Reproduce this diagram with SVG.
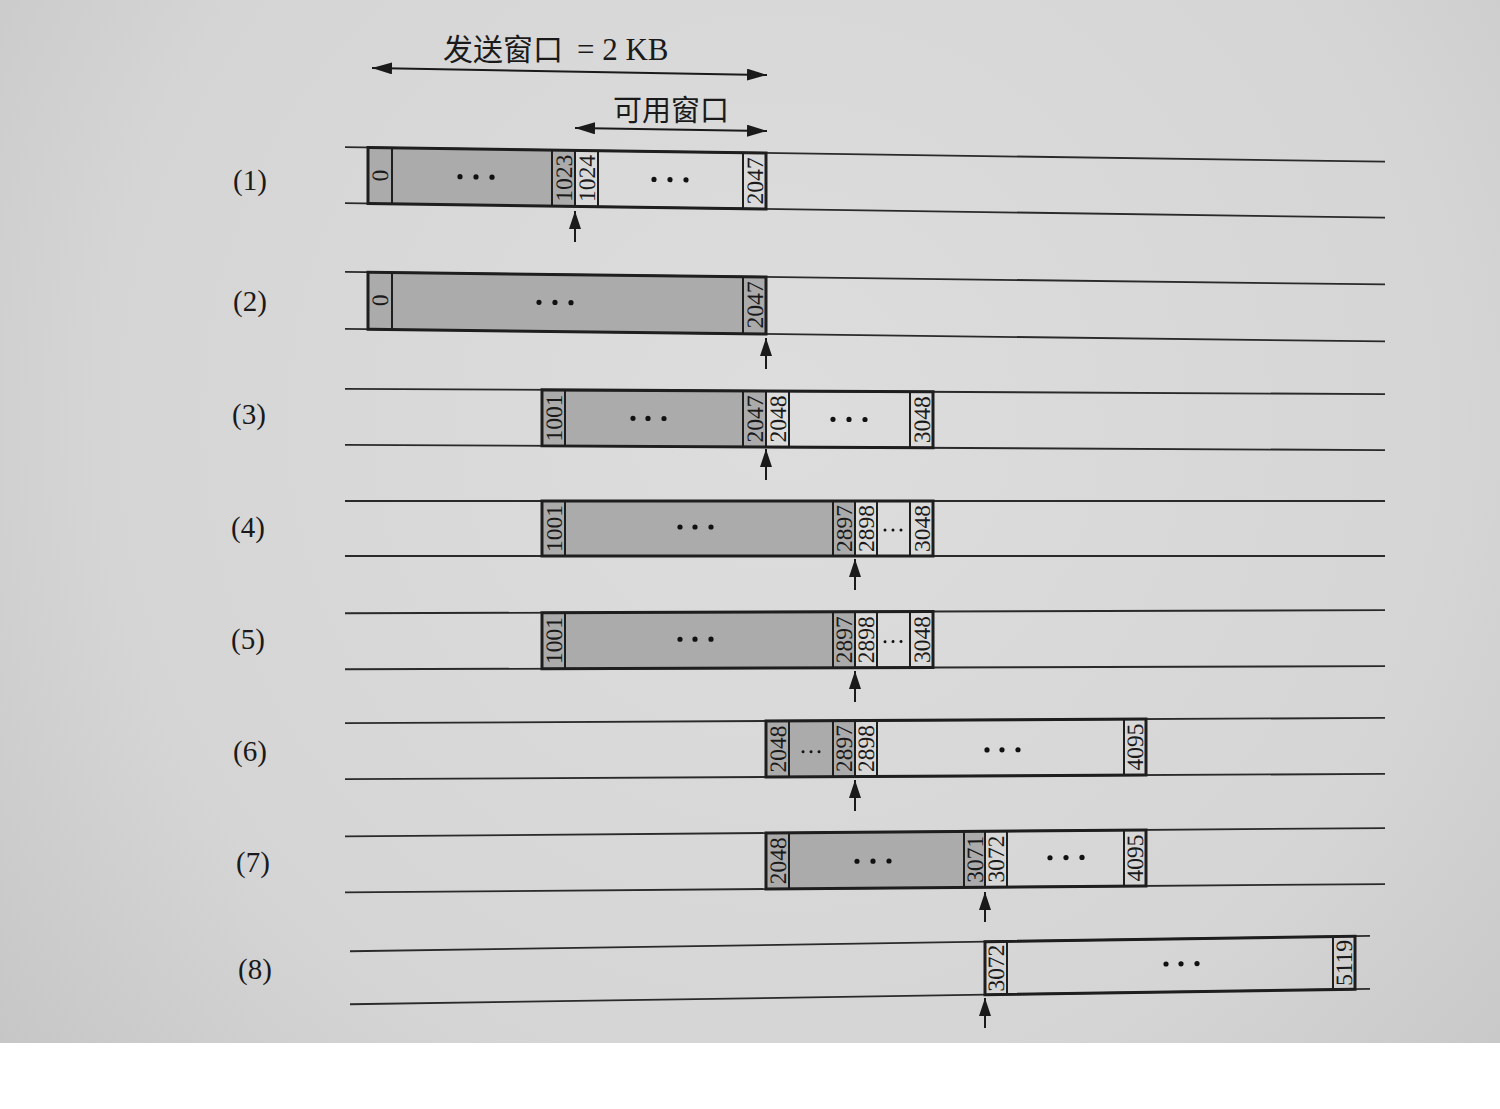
<svg xmlns="http://www.w3.org/2000/svg" width="1500" height="1109" viewBox="0 0 1500 1109">
<defs>
<radialGradient id="bg" cx="780" cy="420" r="1050" gradientUnits="userSpaceOnUse">
<stop offset="0" stop-color="#dddddd"/>
<stop offset="0.65" stop-color="#d5d5d5"/>
<stop offset="1" stop-color="#c4c4c4"/>
</radialGradient>
<marker id="ah" viewBox="0 0 20 12" refX="20" refY="6" markerWidth="20" markerHeight="12" markerUnits="userSpaceOnUse" orient="auto-start-reverse">
<path d="M0,0 L20,6 L0,12 Z" fill="#1a1a1a"/>
</marker>
<marker id="au" viewBox="0 0 18 12" refX="18" refY="6" markerWidth="18" markerHeight="12" markerUnits="userSpaceOnUse" orient="auto">
<path d="M0,0 L18,6 L0,12 Z" fill="#1a1a1a"/>
</marker>
</defs>
<style>
.tape{stroke:#2a2a2a;stroke-width:1.8;fill:none}
.box{stroke:#1e1e1e;stroke-width:3;fill:none}
.sep{stroke:#1e1e1e;stroke-width:2}
.shade{fill:#ababab}
.num{font-family:"Liberation Serif",serif;font-size:23.5px;fill:#1a1a1a;text-anchor:middle}
.lab{font-family:"Liberation Serif",serif;font-size:29px;fill:#1a1a1a;text-anchor:middle}
.title{font-family:"Liberation Serif","Noto Sans CJK SC",serif;fill:#1a1a1a}
.dot{fill:#111}
.conn{stroke:#1a1a1a;stroke-width:2;fill:none}
</style>
<rect x="0" y="0" width="1500" height="1109" fill="#ffffff"/>
<rect x="0" y="0" width="1500" height="1043" fill="url(#bg)"/>

<g id="labels-top">
<text class="title" x="443" y="60" font-size="30">发送窗口<tspan x="577" font-size="31">= 2 KB</tspan></text>
<text class="title" x="613" y="121" font-size="29">可用窗口</text>
</g>

<g id="row1">
<text class="lab" x="250" y="190">(1)</text>
<g transform="matrix(1,0.014,0,1,0,-10.72)">
<line class="tape" x1="345" y1="153" x2="1385" y2="153"/>
<line class="tape" x1="345" y1="209" x2="1385" y2="209"/>
<rect class="shade" x="368" y="153" width="207" height="56"/>
<line class="sep" x1="392" y1="153" x2="392" y2="209"/>
<line class="sep" x1="552" y1="153" x2="552" y2="209"/>
<line class="sep" x1="575" y1="153" x2="575" y2="209"/>
<line class="sep" x1="598" y1="153" x2="598" y2="209"/>
<line class="sep" x1="743" y1="153" x2="743" y2="209"/>
<rect class="box" x="368" y="153" width="398" height="56"/>
<text class="num" transform="translate(380,181) rotate(-90)" dy="8">0</text>
<text class="num" transform="translate(563.5,181) rotate(-90)" dy="8">1023</text>
<text class="num" transform="translate(586.5,181) rotate(-90)" dy="8">1024</text>
<text class="num" transform="translate(755,181) rotate(-90)" dy="8">2047</text>
<circle class="dot" cx="460" cy="181" r="2.6"/><circle class="dot" cx="476" cy="181" r="2.6"/><circle class="dot" cx="492" cy="181" r="2.6"/>
<circle class="dot" cx="654" cy="181" r="2.6"/><circle class="dot" cx="670" cy="181" r="2.6"/><circle class="dot" cx="686" cy="181" r="2.6"/>
</g>
</g>

<g id="row2">
<text class="lab" x="250" y="311">(2)</text>
<g transform="matrix(1,0.012,0,1,0,-9.19)">
<line class="tape" x1="345" y1="277" x2="1385" y2="277"/>
<line class="tape" x1="345" y1="334" x2="1385" y2="334"/>
<rect class="shade" x="368" y="277" width="398" height="57"/>
<line class="sep" x1="392" y1="277" x2="392" y2="334"/>
<line class="sep" x1="743" y1="277" x2="743" y2="334"/>
<rect class="box" x="368" y="277" width="398" height="57"/>
<text class="num" transform="translate(380,305) rotate(-90)" dy="8">0</text>
<text class="num" transform="translate(755,305) rotate(-90)" dy="8">2047</text>
<circle class="dot" cx="539" cy="305" r="2.6"/><circle class="dot" cx="555" cy="305" r="2.6"/><circle class="dot" cx="571" cy="305" r="2.6"/>
</g>
</g>

<g id="row3">
<text class="lab" x="249" y="424">(3)</text>
<g transform="matrix(1,0.005,0,1,0,-3.83)">
<line class="tape" x1="345" y1="391" x2="1385" y2="391"/>
<line class="tape" x1="345" y1="447" x2="1385" y2="447"/>
<rect class="shade" x="542" y="391" width="224" height="56"/>
<line class="sep" x1="565" y1="391" x2="565" y2="447"/>
<line class="sep" x1="743" y1="391" x2="743" y2="447"/>
<line class="sep" x1="766" y1="391" x2="766" y2="447"/>
<line class="sep" x1="789" y1="391" x2="789" y2="447"/>
<line class="sep" x1="910" y1="391" x2="910" y2="447"/>
<rect class="box" x="542" y="391" width="391" height="56"/>
<text class="num" transform="translate(553.5,419) rotate(-90)" dy="8">1001</text>
<text class="num" transform="translate(755,419) rotate(-90)" dy="8">2047</text>
<text class="num" transform="translate(778,419) rotate(-90)" dy="8">2048</text>
<text class="num" transform="translate(921.5,419) rotate(-90)" dy="8">3048</text>
<circle class="dot" cx="633" cy="419" r="2.6"/><circle class="dot" cx="648" cy="419" r="2.6"/><circle class="dot" cx="664" cy="419" r="2.6"/>
<circle class="dot" cx="833" cy="419" r="2.6"/><circle class="dot" cx="849" cy="419" r="2.6"/><circle class="dot" cx="865" cy="419" r="2.6"/>
</g>
</g>

<g id="row4">
<text class="lab" x="248" y="537">(4)</text>
<g>
<line class="tape" x1="345" y1="501" x2="1385" y2="501"/>
<line class="tape" x1="345" y1="556" x2="1385" y2="556"/>
<rect class="shade" x="542" y="501" width="313" height="55"/>
<line class="sep" x1="565" y1="501" x2="565" y2="556"/>
<line class="sep" x1="833" y1="501" x2="833" y2="556"/>
<line class="sep" x1="855" y1="501" x2="855" y2="556"/>
<line class="sep" x1="877" y1="501" x2="877" y2="556"/>
<line class="sep" x1="910" y1="501" x2="910" y2="556"/>
<rect class="box" x="542" y="501" width="391" height="55"/>
<text class="num" transform="translate(553.5,528.5) rotate(-90)" dy="8">1001</text>
<text class="num" transform="translate(844,528.5) rotate(-90)" dy="8">2897</text>
<text class="num" transform="translate(866,528.5) rotate(-90)" dy="8">2898</text>
<text class="num" transform="translate(921.5,528.5) rotate(-90)" dy="8">3048</text>
<circle class="dot" cx="680" cy="527" r="2.6"/><circle class="dot" cx="695" cy="527" r="2.6"/><circle class="dot" cx="711" cy="527" r="2.6"/>
<circle class="dot" cx="885" cy="530" r="1.5"/><circle class="dot" cx="893" cy="530" r="1.5"/><circle class="dot" cx="901" cy="530" r="1.5"/>
</g>
</g>

<g id="row5">
<text class="lab" x="248" y="649">(5)</text>
<g transform="matrix(1,-0.003,0,1,0,2.30)">
<line class="tape" x1="345" y1="612" x2="1385" y2="612"/>
<line class="tape" x1="345" y1="668" x2="1385" y2="668"/>
<rect class="shade" x="542" y="612" width="313" height="56"/>
<line class="sep" x1="565" y1="612" x2="565" y2="668"/>
<line class="sep" x1="833" y1="612" x2="833" y2="668"/>
<line class="sep" x1="855" y1="612" x2="855" y2="668"/>
<line class="sep" x1="877" y1="612" x2="877" y2="668"/>
<line class="sep" x1="910" y1="612" x2="910" y2="668"/>
<rect class="box" x="542" y="612" width="391" height="56"/>
<text class="num" transform="translate(553.5,640) rotate(-90)" dy="8">1001</text>
<text class="num" transform="translate(844,640) rotate(-90)" dy="8">2897</text>
<text class="num" transform="translate(866,640) rotate(-90)" dy="8">2898</text>
<text class="num" transform="translate(921.5,640) rotate(-90)" dy="8">3048</text>
<circle class="dot" cx="680" cy="639" r="2.6"/><circle class="dot" cx="695" cy="639" r="2.6"/><circle class="dot" cx="711" cy="639" r="2.6"/>
<circle class="dot" cx="885" cy="642" r="1.5"/><circle class="dot" cx="893" cy="642" r="1.5"/><circle class="dot" cx="901" cy="642" r="1.5"/>
</g>
</g>

<g id="row6">
<text class="lab" x="250" y="761">(6)</text>
<g transform="matrix(1,-0.005,0,1,0,3.83)">
<line class="tape" x1="345" y1="721" x2="1385" y2="721"/>
<line class="tape" x1="345" y1="777" x2="1385" y2="777"/>
<rect class="shade" x="766" y="721" width="89" height="56"/>
<line class="sep" x1="789" y1="721" x2="789" y2="777"/>
<line class="sep" x1="833" y1="721" x2="833" y2="777"/>
<line class="sep" x1="855" y1="721" x2="855" y2="777"/>
<line class="sep" x1="877" y1="721" x2="877" y2="777"/>
<line class="sep" x1="1124" y1="721" x2="1124" y2="777"/>
<rect class="box" x="766" y="721" width="380" height="56"/>
<text class="num" transform="translate(778,749) rotate(-90)" dy="8">2048</text>
<text class="num" transform="translate(844,749) rotate(-90)" dy="8">2897</text>
<text class="num" transform="translate(866,749) rotate(-90)" dy="8">2898</text>
<text class="num" transform="translate(1135,749) rotate(-90)" dy="8">4095</text>
<circle class="dot" cx="803" cy="752" r="1.5"/><circle class="dot" cx="811" cy="752" r="1.5"/><circle class="dot" cx="819" cy="752" r="1.5"/>
<circle class="dot" cx="987" cy="751" r="2.6"/><circle class="dot" cx="1002" cy="751" r="2.6"/><circle class="dot" cx="1018" cy="751" r="2.6"/>
</g>
</g>

<g id="row7">
<text class="lab" x="253" y="872">(7)</text>
<g transform="matrix(1,-0.008,0,1,0,6.13)">
<line class="tape" x1="345" y1="833" x2="1385" y2="833"/>
<line class="tape" x1="345" y1="889" x2="1385" y2="889"/>
<rect class="shade" x="766" y="833" width="219" height="56"/>
<line class="sep" x1="789" y1="833" x2="789" y2="889"/>
<line class="sep" x1="964" y1="833" x2="964" y2="889"/>
<line class="sep" x1="985" y1="833" x2="985" y2="889"/>
<line class="sep" x1="1007" y1="833" x2="1007" y2="889"/>
<line class="sep" x1="1124" y1="833" x2="1124" y2="889"/>
<rect class="box" x="766" y="833" width="380" height="56"/>
<text class="num" transform="translate(778,861) rotate(-90)" dy="8">2048</text>
<text class="num" transform="translate(974.5,861) rotate(-90)" dy="8">3071</text>
<text class="num" transform="translate(996,861) rotate(-90)" dy="8">3072</text>
<text class="num" transform="translate(1135,861) rotate(-90)" dy="8">4095</text>
<circle class="dot" cx="857" cy="862" r="2.6"/><circle class="dot" cx="873" cy="862" r="2.6"/><circle class="dot" cx="889" cy="862" r="2.6"/>
<circle class="dot" cx="1050" cy="860" r="2.6"/><circle class="dot" cx="1066" cy="860" r="2.6"/><circle class="dot" cx="1082" cy="860" r="2.6"/>
</g>
</g>

<g id="row8">
<text class="lab" x="255" y="979">(8)</text>
<g transform="matrix(1,-0.015,0,1,0,11.49)">
<line class="tape" x1="350" y1="945" x2="1370" y2="945"/>
<line class="tape" x1="350" y1="998" x2="1370" y2="998"/>
<line class="sep" x1="1007" y1="945" x2="1007" y2="998"/>
<line class="sep" x1="1333" y1="945" x2="1333" y2="998"/>
<rect class="box" x="985" y="945" width="370" height="53"/>
<text class="num" transform="translate(996,971.5) rotate(-90)" dy="8">3072</text>
<text class="num" transform="translate(1344,971.5) rotate(-90)" dy="8">5119</text>
<circle class="dot" cx="1166" cy="970" r="2.6"/><circle class="dot" cx="1181" cy="970" r="2.6"/><circle class="dot" cx="1197" cy="970" r="2.6"/>
</g>
</g>

<g id="connectors">
<line class="conn" x1="372" y1="68" x2="767" y2="75" marker-start="url(#ah)" marker-end="url(#ah)"/>
<line class="conn" x1="575" y1="128" x2="767" y2="131" marker-start="url(#ah)" marker-end="url(#ah)"/>
<line class="conn" x1="575" y1="242" x2="575" y2="211" marker-end="url(#au)"/>
<line class="conn" x1="766" y1="369" x2="766" y2="338" marker-end="url(#au)"/>
<line class="conn" x1="766" y1="480" x2="766" y2="449" marker-end="url(#au)"/>
<line class="conn" x1="855" y1="590" x2="855" y2="559" marker-end="url(#au)"/>
<line class="conn" x1="855" y1="702" x2="855" y2="671" marker-end="url(#au)"/>
<line class="conn" x1="855" y1="811" x2="855" y2="780" marker-end="url(#au)"/>
<line class="conn" x1="985" y1="922" x2="985" y2="892" marker-end="url(#au)"/>
<line class="conn" x1="985" y1="1028" x2="985" y2="998" marker-end="url(#au)"/>
</g>
</svg>
